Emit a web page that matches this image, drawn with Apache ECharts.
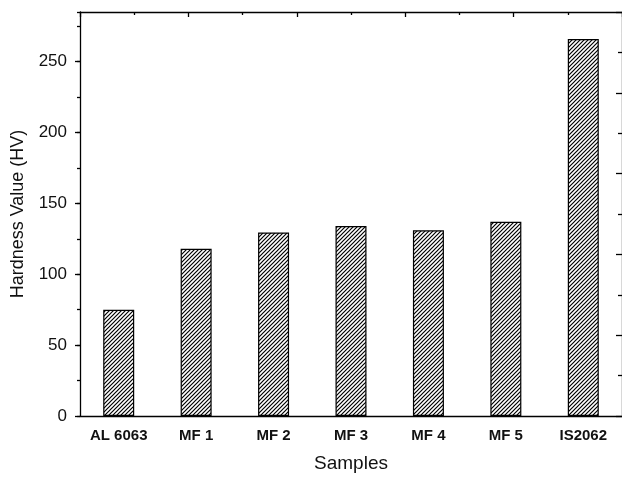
<!DOCTYPE html>
<html>
<head>
<meta charset="utf-8">
<script src="https://cdn.jsdelivr.net/npm/echarts@6/dist/echarts.min.js"></script>
<style>
  html, body { margin: 0; padding: 0; background: #fff; }
  #chart { width: 622px; height: 479px; }
</style>
</head>
<body>
<div id="chart"></div>
<script>
const samples = ['AL 6063', 'MF 1', 'MF 2', 'MF 3', 'MF 4', 'MF 5', 'IS2062'];
const hardness = [75, 118, 129.5, 134, 131, 137, 266];

// diagonal hatch used as bar fill
function makeHatch() {
    const size = 4;
    const c = document.createElement('canvas');
    c.width = size;
    c.height = size;
    const ctx = c.getContext('2d');
    ctx.fillStyle = '#fff';
    ctx.fillRect(0, 0, size, size);
    ctx.strokeStyle = '#000';
    ctx.lineWidth = 1.2;
    ctx.beginPath();
    ctx.moveTo(-1, size + 1);
    ctx.lineTo(size + 1, -1);
    ctx.moveTo(-1, 1);
    ctx.lineTo(1, -1);
    ctx.moveTo(size - 1, size + 1);
    ctx.lineTo(size + 1, size - 1);
    ctx.stroke();
    return c;
}

const chart = echarts.init(document.getElementById('chart'));
const font = 'Liberation Sans, Arial, sans-serif';
const lineStyle = { color: '#000', width: 1.3 };

chart.setOption({
    backgroundColor: '#fff',
    animation: false,
    grid: { left: 80, right: -1.5, top: 12, bottom: 63 },
    xAxis: [
        {
            type: 'category',
            data: samples,
            position: 'bottom',
            name: 'Samples',
            nameLocation: 'middle',
            nameGap: 38,
            nameTextStyle: { color: '#111', fontSize: 19, fontFamily: font },
            axisLine: { lineStyle: lineStyle },
            axisTick: { alignWithLabel: true, length: 5, lineStyle: lineStyle },
            axisLabel: { color: '#111', fontSize: 15, fontWeight: 'bold', fontFamily: font, margin: 12 }
        },
        {
            type: 'category',
            data: samples,
            position: 'bottom',
            axisLine: { show: false },
            axisTick: { length: 3, lineStyle: lineStyle },
            axisLabel: { show: false }
        },
        {
            type: 'value',
            position: 'top',
            min: 0,
            max: 5,
            interval: 1,
            axisLine: { show: true, onZero: false, lineStyle: lineStyle },
            axisTick: { show: true, inside: true, length: 5, lineStyle: lineStyle },
            minorTick: { show: true, splitNumber: 2, length: 3, lineStyle: lineStyle },
            axisLabel: { show: false },
            splitLine: { show: false }
        }
    ],
    yAxis: [
        {
            type: 'value',
            position: 'left',
            min: 0,
            max: 285,
            interval: 50,
            name: 'Hardness Value (HV)',
            nameLocation: 'middle',
            nameGap: 53,
            nameTextStyle: { color: '#111', fontSize: 18, fontFamily: font },
            axisLine: { show: true, lineStyle: lineStyle },
            axisTick: { show: true, length: 5, lineStyle: lineStyle },
            axisLabel: { color: '#111', fontSize: 17, fontFamily: font, margin: 13, showMaxLabel: false },
            splitLine: { show: false }
        },
        {
            type: 'value',
            position: 'left',
            min: 0,
            max: 285,
            interval: 25,
            axisLine: { show: false },
            axisTick: { show: true, length: 3, lineStyle: lineStyle },
            axisLabel: { show: false },
            splitLine: { show: false }
        },
        {
            type: 'value',
            position: 'right',
            min: 0,
            max: 5,
            interval: 1,
            axisLine: { show: true, onZero: false, lineStyle: lineStyle },
            axisTick: { show: true, inside: true, length: 6, lineStyle: lineStyle },
            minorTick: { show: true, splitNumber: 2, length: 4, lineStyle: lineStyle },
            axisLabel: { show: false },
            splitLine: { show: false }
        }
    ],
    series: [
        {
            type: 'bar',
            xAxisIndex: 0,
            yAxisIndex: 0,
            data: hardness,
            barWidth: 31,
            itemStyle: {
                color: { image: makeHatch(), repeat: 'repeat' },
                borderColor: '#000',
                borderWidth: 1.2
            }
        }
    ]
});

window.addEventListener('resize', () => chart.resize());
</script>
</body>
</html>
